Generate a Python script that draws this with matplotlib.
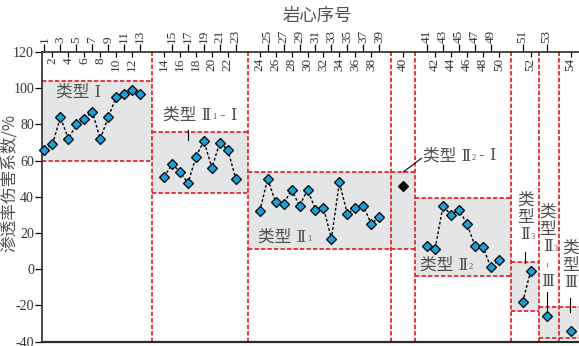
import numpy as np
import matplotlib.pyplot as plt

plt.rcParams['axes.unicode_minus'] = False

# permeability damage coefficient (%) of each core, grouped by damage type
type_1 = [66, 69, 84, 72, 80, 83, 87, 72, 84, 95, 97, 99, 97]          # cores 1-13
type_21_1 = [51, 58, 54, 47.5, 62, 71, 56, 70, 66, 50]                 # cores 14-23
type_21 = [32, 50, 37, 36, 44, 35, 44, 33, 34, 17, 48, 30.5, 34, 35, 25, 29]  # cores 24-39
type_22_1 = [46]                                                      # core 40
type_22 = [13, 11, 35, 30, 33, 25, 13, 12.5, 1, 5]                     # cores 41-50
type_23 = [-18, -1]                                                   # cores 51-52
type_23_3 = [-26]                                                     # core 53
type_3 = [-34]                                                        # core 54

# (values, gap before group in x units, box y-range, marker face colour)
BLUE = '#1e9fd8'
groups = [
    (type_1, 0, (60, 104), BLUE),
    (type_21_1, 3, (42, 76), BLUE),
    (type_21, 3, (11, 54), BLUE),
    (type_22_1, 3, (11, 54), 'black'),
    (type_22, 3, (-3.5, 39.5), BLUE),
    (type_23, 3, (-23, 4), BLUE),
    (type_23_3, 2, (-38, -21), BLUE),
    (type_3, 3, (-38, -21), BLUE),
]

RED = '#e8262d'
GRAY = '#e4e5e7'
TXT = '#505050'
CJK = ['DejaVu Serif', 'Noto Sans CJK SC']
SERIF = 'Liberation Serif'
red_dash = (0, (2.4, 1.2))

fig = plt.figure(figsize=(5.79, 3.46), dpi=100)
ax = fig.add_axes([0.072, 0.0124, 0.928, 0.8373])
XMIN, XMAX = -0.35, 67.06
ax.set_xlim(XMIN, XMAX)
ax.set_ylim(-40, 120)

# x position of every core: consecutive inside a group, gaps between groups
xs = []
last = None
for vals, gap, box, fc in groups:
    start = 0 if last is None else last + gap
    x = start + np.arange(len(vals))
    xs.append(x)
    last = x[-1]

edges = [XMIN] + [(xs[i][-1] + xs[i + 1][0]) / 2 for i in range(len(xs) - 1)] + [XMAX]

for i, (vals, gap, box, fc) in enumerate(groups):
    x0, x1 = edges[i], edges[i + 1]
    ax.fill_between([x0, x1], box[0], box[1], color=GRAY, lw=0, zorder=0)
    ax.hlines(box, x0, x1, colors=RED, linestyles=red_dash, lw=1.3, zorder=1)
    ax.plot(xs[i], vals, ls=(0, (2, 1.5)), color='black', lw=1.0,
            marker='D', ms=5.2, mfc=fc, mec='black', mew=0.9, zorder=3, clip_on=False)

for b in edges[1:-1]:
    ax.axvline(b, color=RED, ls=red_dash, lw=1.3, zorder=1)

# axes frame
for side in ['left', 'top', 'bottom']:
    ax.spines[side].set_color('#2b2b2b')
    ax.spines[side].set_linewidth(1.2)
ax.spines['bottom'].set_linewidth(1.6)
ax.spines['right'].set_visible(False)

# core numbers along the top: odd ones outside, even ones inside
pos = np.concatenate(xs)
cores = np.arange(1, len(pos) + 1)
ax.xaxis.set_ticks_position('top')
ax.set_xticks(pos[0::2])
ax.set_xticklabels([str(c) for c in cores[0::2]], family=SERIF)
ax.set_xticks(pos[1::2], minor=True)
ax.tick_params(axis='x', which='major', direction='out', length=5.5, width=0.9,
               pad=1, labelrotation=90, labelsize=9.5, labelcolor='#333333',
               top=True, bottom=False, labeltop=True, labelbottom=False)
ax.tick_params(axis='x', which='minor', direction='in', length=3.5, width=0.9,
               top=True, bottom=False)
for p, c in zip(pos[1::2], cores[1::2]):
    ax.annotate(str(c), xy=(p, 1), xycoords=('data', 'axes fraction'),
                xytext=(0, -4.2), textcoords='offset points', rotation=90,
                ha='center', va='top', fontsize=9.5, family=SERIF, color='#333333')

ax.set_yticks(np.arange(-40, 121, 20))
ax.set_yticklabels([str(v) for v in range(-40, 121, 20)], family=SERIF)
ax.tick_params(axis='y', direction='out', length=5, width=0.9, pad=0.5,
               labelsize=10, labelcolor='#333333')

ax.set_ylabel('渗透率伤害系数/%', family=['Noto Sans CJK SC'], fontsize=12, color=TXT)
ax.yaxis.set_label_coords(-0.045, 0.548)
ax.set_xlabel('岩心序号', family=['Noto Sans CJK SC'], fontsize=12.5, color=TXT)
ax.xaxis.set_label_position('top')
ax.xaxis.set_label_coords(0.512, 1.125)
ax.xaxis.label.set_va('center')


def type_label(x, y, head, sub='', tail=''):
    t = ax.text(x, y, head, fontsize=12, color=TXT, family=CJK, ha='left', va='center')
    if sub:
        s = ax.annotate(sub, xy=(1, 0), xycoords=t, xytext=(0.5, 1.8),
                        textcoords='offset points', fontsize=6, family=SERIF,
                        color=TXT, ha='left', va='bottom')
        if tail:
            ax.annotate(tail, xy=(1, 0.5), xycoords=(s, t), xytext=(2.5, 0),
                        textcoords='offset points', fontsize=12, family=CJK,
                        color=TXT, ha='left', va='center')


def stack_label(x, y, chars, subs={}, pitch=12.5):
    for i, c in enumerate(chars):
        t = ax.annotate(c, xy=(x, y), xytext=(0, -i * pitch), textcoords='offset points',
                        ha='center', va='center', fontsize=12, family=CJK, color=TXT,
                        rotation=90 if c == '-' else 0)
        if i in subs:
            ax.annotate(subs[i], xy=(1, 0), xycoords=t, xytext=(0.5, 1.8),
                        textcoords='offset points', fontsize=6, family=SERIF,
                        color=TXT, ha='left', va='bottom')


def leader(x0, y0, x1, y1):
    ax.plot([x0, x1], [y0, y1], color='black', lw=0.8, zorder=2)


type_label(1.5, 97.9, '类型 Ⅰ')
type_label(14.85, 85.2, '类型 Ⅱ', '1', '- Ⅰ')
leader(18, 77, 18, 71.5)
type_label(26.8, 17.8, '类型 Ⅱ', '1')
type_label(47.45, 62.6, '类型 Ⅱ', '2', '- Ⅰ')
leader(45, 53.7, 47.3, 61.3)
type_label(47.1, 2.4, '类型 Ⅱ', '2')
stack_label(60.3, 38.3, ['类', '型', 'Ⅱ'], {2: '3'})
leader(60.3, 9.7, 60.3, 3.3)
stack_label(63.15, 31.6, ['类', '型', 'Ⅱ', '-', 'Ⅲ'], {2: '3'})
leader(63.0, -12.4, 63.0, -22.5)
stack_label(66.0, 11.8, ['类', '型', 'Ⅲ'])
leader(65.95, -15.8, 65.95, -23.6)

fig.savefig('out.png', dpi=100)
